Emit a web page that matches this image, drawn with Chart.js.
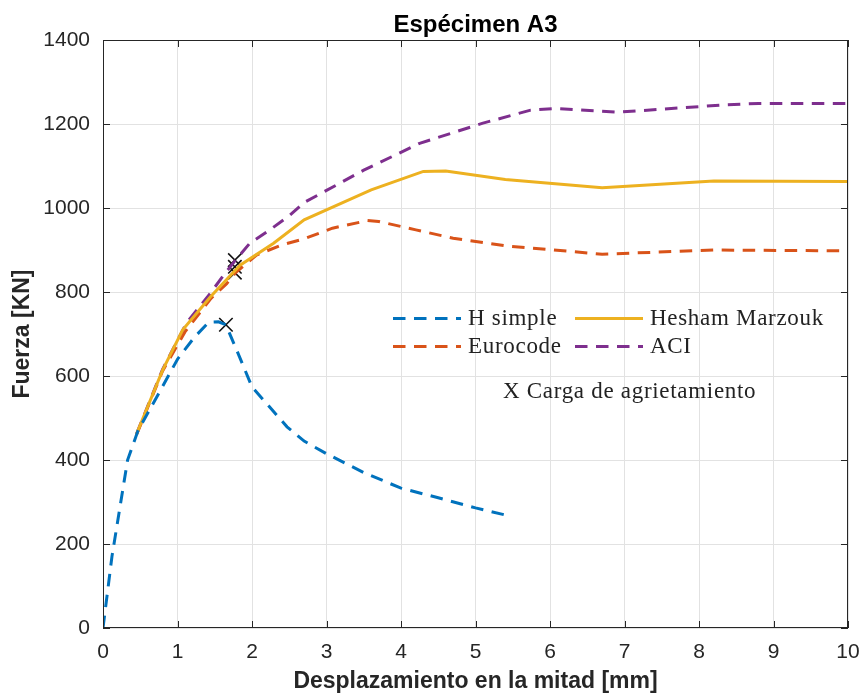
<!DOCTYPE html>
<html>
<head>
<meta charset="utf-8">
<script src="https://cdn.jsdelivr.net/npm/chart.js@4/dist/chart.umd.min.js"></script>
<style>
  html, body { margin: 0; padding: 0; background: #fff; }
  canvas { display: block; }
</style>
</head>
<body>
<canvas id="chart" width="864" height="696"></canvas>
<script>
// curves: displacement [mm] vs force [KN]
const hSimpleX = [0, 0.12, 0.33, 0.47, 0.8, 1.0, 1.23, 1.42, 1.55, 1.65, 1.81, 2.0, 2.47, 2.7, 3.0, 3.5, 4.0, 4.5, 5.0, 5.45];
const hSimpleY = [0, 170, 400, 470, 575, 640, 693, 728, 729, 722, 655, 574, 479, 445, 415, 370, 333, 310, 286, 267];

const heshamX = [0.45, 0.8, 1.07, 1.44, 1.84, 2.29, 2.7, 3.6, 4.3, 4.6, 5.4, 6.7, 8.2, 10];
const heshamY = [462, 614, 710, 788, 864, 916, 972, 1043, 1087, 1088, 1068, 1048, 1064, 1063];

const eurocodeX = [0.45, 0.8, 1.1, 1.45, 1.66, 1.78, 2.06, 2.4, 2.69, 3.08, 3.55, 3.7, 4.2, 4.7, 5.4, 6.7, 8.2, 10];
const eurocodeY = [460, 612, 705, 785, 820, 846, 888, 912, 926, 952, 970, 968, 948, 928, 910, 890, 900, 898];

const aciX = [0.45, 0.8, 1.12, 1.44, 1.62, 1.77, 1.97, 2.24, 2.51, 2.7, 3.5, 4.25, 5.1, 5.74, 6.1, 6.9, 8.29, 8.8, 10];
const aciY = [462, 616, 726, 797, 840, 874, 916, 948, 983, 1013, 1090, 1154, 1202, 1233, 1237, 1228, 1245, 1249, 1249];

// cracking load points
const crackX = [1.65, 1.77, 1.77, 1.77];
const crackY = [722, 876, 860, 846];

const xTicks = [0, 1, 2, 3, 4, 5, 6, 7, 8, 9, 10];
const yTicks = [0, 200, 400, 600, 800, 1000, 1200, 1400];

const dash = [12.5, 8.5];

function pts(xs, ys) {
  return xs.map((x, i) => ({x: x, y: ys[i]}));
}

var axisColor = '#262626';

var frame = {
  id: 'frame',
  beforeDraw(chart) {
    var ctx = chart.ctx;
    ctx.save();
    ctx.fillStyle = '#fff';
    ctx.fillRect(0, 0, chart.width, chart.height);
    ctx.restore();
  },
  afterDatasetsDraw(chart) {
    var ctx = chart.ctx;
    var a = chart.chartArea;
    var xs = chart.scales.x, ys = chart.scales.y;
    ctx.save();
    ctx.strokeStyle = axisColor;
    ctx.lineWidth = 1;
    ctx.setLineDash([]);
    ctx.strokeRect(a.left + 0.5, a.top + 0.5, a.right - a.left - 1, a.bottom - a.top - 1);
    var tl = 7;
    ctx.beginPath();
    xTicks.forEach(function (v) {
      var p = Math.round(xs.getPixelForValue(v)) + 0.5;
      ctx.moveTo(p, a.bottom); ctx.lineTo(p, a.bottom - tl);
      ctx.moveTo(p, a.top); ctx.lineTo(p, a.top + tl);
    });
    yTicks.forEach(function (v) {
      var p = Math.round(ys.getPixelForValue(v)) + 0.5;
      ctx.moveTo(a.left, p); ctx.lineTo(a.left + tl, p);
      ctx.moveTo(a.right, p); ctx.lineTo(a.right - tl, p);
    });
    ctx.stroke();

    // title
    ctx.fillStyle = '#000';
    ctx.font = 'bold 24px "Liberation Sans", Arial, sans-serif';
    ctx.textAlign = 'center';
    ctx.textBaseline = 'alphabetic';
    ctx.fillText('Espécimen A3', (a.left + a.right) / 2, 32);

    // legend in two columns inside the plot
    ctx.font = '23px "Liberation Serif", "Times New Roman", serif';
    ctx.letterSpacing = '0.7px';
    ctx.textAlign = 'left';
    ctx.fillStyle = '#222';
    var cols = [393, 575];
    var rows = [318.5, 346.5];
    var sets = chart.data.datasets.slice(0, 4);
    sets.forEach(function (ds, i) {
      var cx = cols[i % 2], cy = rows[Math.floor(i / 2)];
      ctx.save();
      ctx.strokeStyle = ds.borderColor;
      ctx.lineWidth = ds.borderWidth;
      ctx.setLineDash(ds.borderDash || []);
      ctx.beginPath();
      ctx.moveTo(cx, cy);
      ctx.lineTo(cx + 68, cy);
      ctx.stroke();
      ctx.restore();
      ctx.fillText(ds.label, cx + 75, cy + 6);
    });
    ctx.fillText('X Carga de agrietamiento', 503, 398);
    ctx.restore();
  }
};

new Chart(document.getElementById('chart'), {
  type: 'line',
  data: {
    datasets: [
      {label: 'H simple', data: pts(hSimpleX, hSimpleY), borderColor: '#0072BD', borderDash: dash, borderWidth: 3},
      {label: 'Hesham Marzouk', data: pts(heshamX, heshamY), borderColor: '#EDB120', borderWidth: 3},
      {label: 'Eurocode', data: pts(eurocodeX, eurocodeY), borderColor: '#D95319', borderDash: dash, borderWidth: 3},
      {label: 'ACI', data: pts(aciX, aciY), borderColor: '#7E2F8E', borderDash: dash, borderWidth: 3},
      {label: 'Carga de agrietamiento', data: pts(crackX, crackY), showLine: false,
       pointStyle: 'crossRot', pointRadius: 9.5, borderColor: '#111', borderWidth: 1.6}
    ]
  },
  options: {
    responsive: false,
    animation: false,
    layout: {padding: {top: 40, right: 16, left: 0, bottom: 0}},
    elements: {line: {tension: 0, borderCapStyle: 'butt'}, point: {radius: 0, hoverRadius: 0}},
    plugins: {legend: {display: false}, tooltip: {enabled: false}},
    scales: {
      x: {
        type: 'linear', min: 0, max: 10,
        afterFit: function (s) { s.height = 68; s.paddingLeft = 0; s.paddingRight = 0; },
        afterBuildTicks: function (s) { s.ticks = xTicks.map(v => ({value: v})); },
        grid: {color: '#e2e2e2', drawTicks: false},
        border: {display: false},
        ticks: {color: axisColor, padding: 12, maxRotation: 0, callback: v => String(v),
                font: {family: '"Liberation Sans", Arial', size: 21}},
        title: {display: true, text: 'Desplazamiento en la mitad [mm]', color: axisColor,
                padding: {top: 0, bottom: 1}, font: {family: '"Liberation Sans", Arial', size: 23, weight: 'bold'}}
      },
      y: {
        min: 0, max: 1400,
        afterFit: function (s) { s.width = 103; s.paddingTop = 0; s.paddingBottom = 0; },
        afterBuildTicks: function (s) { s.ticks = yTicks.map(v => ({value: v})); },
        grid: {color: '#e2e2e2', drawTicks: false},
        border: {display: false},
        ticks: {color: axisColor, padding: 13, callback: v => String(v),
                font: {family: '"Liberation Sans", Arial', size: 21}},
        title: {display: true, text: 'Fuerza [KN]', color: axisColor,
                padding: {top: 9, bottom: 0}, font: {family: '"Liberation Sans", Arial', size: 23, weight: 'bold'}}
      }
    }
  },
  plugins: [frame]
});
</script>
</body>
</html>
